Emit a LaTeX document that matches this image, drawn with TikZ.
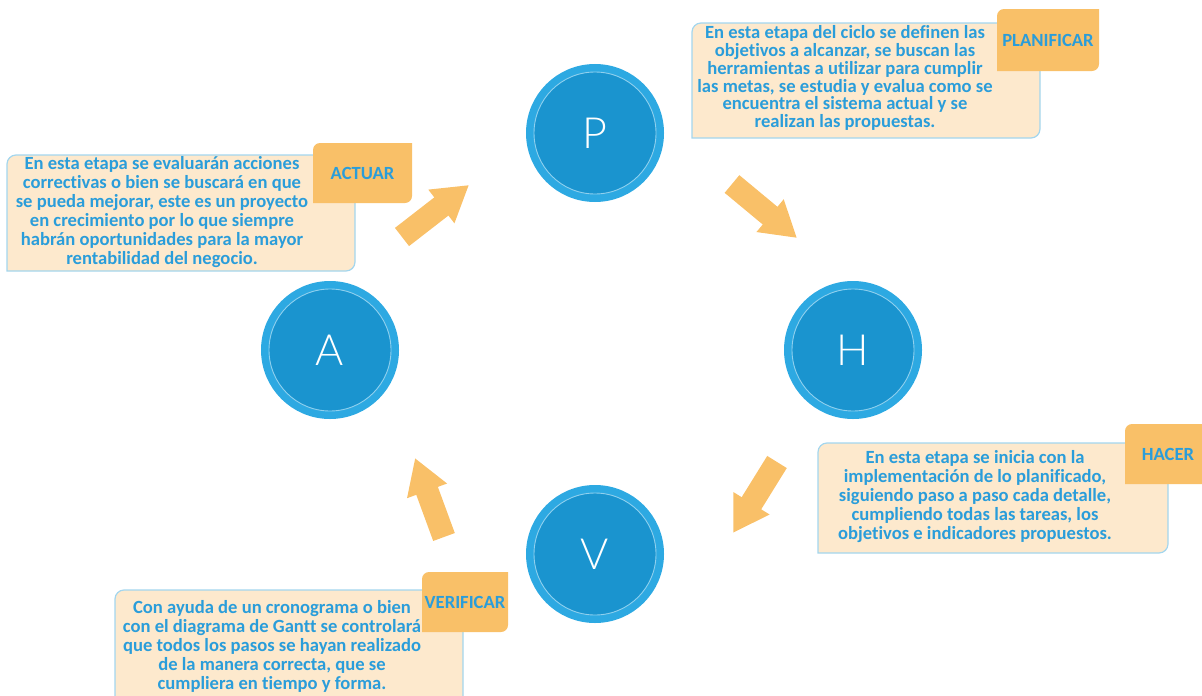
\documentclass[tikz,border=0pt]{standalone}
\usepackage{fontspec}
\setmainfont{Carlito}[Ligatures=NoCommon]
\newfontfamily\letterfont{Lato Light}
\usetikzlibrary{arrows.meta}

\definecolor{ringblue}{HTML}{2DA9E2}
\definecolor{coreblue}{HTML}{1A94CF}
\definecolor{ringline}{HTML}{8FD0EE}
\definecolor{notefill}{HTML}{FDE9CD}
\definecolor{noteedge}{HTML}{A3D6EE}
\definecolor{tagfill}{HTML}{F9C068}
\definecolor{textblue}{HTML}{2A9DDA}

% rectangle with only the top-left and bottom-right corners rounded
\newcommand\diagshape[3]{%
  \path[#3] (#1.south west) -- ([yshift=-#2]#1.north west)
    arc[start angle=180,end angle=90,radius=#2] -- (#1.north east)
    -- ([yshift=#2]#1.south east)
    arc[start angle=0,end angle=-90,radius=#2] -- cycle;}

\tikzset{
  stage/.style={circle, inner sep=0pt, outer sep=0pt, minimum size=122pt,
    fill=coreblue, draw=ringline, line width=0.9pt,
    preaction={draw=ringblue, line width=16pt},
    text=white, font=\letterfont\fontsize{43}{43}\selectfont},
  frame/.style={rectangle, inner sep=0pt, outer sep=0pt},
  note/.style={fill=notefill, draw=noteedge, line width=1.2pt},
  tag/.style={fill=tagfill},
  bodytext/.style={align=center, inner sep=0pt, text=textblue,
    font=\bfseries\fontsize{18.6}{19}\selectfont},
  tighttext/.style={bodytext, font=\bfseries\fontsize{18.6}{17.9}\selectfont},
  tagtext/.style={inner sep=0pt, text=textblue,
    font=\bfseries\fontsize{18.6}{18}\selectfont},
  blockarrow/.style={draw=tagfill, line width=23pt,
    -{Triangle[length=35pt,width=40pt]}},
}

\begin{document}
\begin{tikzpicture}[x=1pt,y=1pt]
\useasboundingbox (0,0) rectangle (1202,-696);
\clip (0,0) rectangle (1202,-696);

% the four stages of the cycle
\node[stage] (P) at (595,-133) {P};
\node[stage] (H) at (853,-350) {H};
\node[stage] (V) at (595,-554) {V};
\node[stage] (A) at (330,-350) {A};

% block arrows between the stages
\coordinate (pa) at (402,-237);  \coordinate (pb) at (469,-185);
\coordinate (ha) at (732,-184);  \coordinate (hb) at (797,-238);
\coordinate (va) at (777,-462);  \coordinate (vb) at (733,-533);
\coordinate (aa) at (444,-537);  \coordinate (ab) at (415,-458);
\draw[blockarrow] (pa) -- (pb);
\draw[blockarrow] (ha) -- (hb);
\draw[blockarrow] (va) -- (vb);
\draw[blockarrow] (aa) -- (ab);

% PLANIFICAR
\node[frame, minimum width=348pt, minimum height=115pt] (planBox) at (866,-80.5) {};
\diagshape{planBox}{9pt}{note}
\node[frame, minimum width=102pt, minimum height=62pt] (planTag) at (1048,-40) {};
\diagshape{planTag}{7pt}{tag}
\node[tagtext] at (planTag) {PLANIFICAR};
\node[tighttext] (planText) at (845,-78) {En esta etapa del ciclo se definen las\\
  objetivos a alcanzar, se buscan las\\
  herramientas a utilizar para cumplir\\
  las metas, se estudia y evalua como se\\
  encuentra el sistema actual y se\\
  realizan las propuestas.};

% ACTUAR
\node[frame, minimum width=348pt, minimum height=116pt] (actBox) at (181,-213) {};
\diagshape{actBox}{9pt}{note}
\node[frame, minimum width=99pt, minimum height=60pt] (actTag) at (362.5,-173) {};
\diagshape{actTag}{7pt}{tag}
\node[tagtext] at (actTag) {ACTUAR};
\node[bodytext] (actText) at (162,-212) {En esta etapa se evaluarán acciones\\
  correctivas o bien se buscará en que\\
  se pueda mejorar, este es un proyecto\\
  en crecimiento por lo que siempre\\
  habrán oportunidades para la mayor\\
  rentabilidad del negocio.};

% HACER
\node[frame, minimum width=350pt, minimum height=110pt] (doBox) at (993,-498) {};
\diagshape{doBox}{9pt}{note}
\node[frame, minimum width=86pt, minimum height=60pt] (doTag) at (1168,-454) {};
\diagshape{doTag}{7pt}{tag}
\node[tagtext] at (doTag) {HACER};
\node[bodytext] (doText) at (975,-497) {En esta etapa se inicia con la\\
  implementación de lo planificado,\\
  siguiendo paso a paso cada detalle,\\
  cumpliendo todas las tareas, los\\
  objetivos e indicadores propuestos.};

% VERIFICAR
\node[frame, minimum width=348pt, minimum height=116pt] (chkBox) at (289,-648) {};
\diagshape{chkBox}{9pt}{note}
\node[frame, minimum width=86pt, minimum height=60pt] (chkTag) at (465,-602) {};
\diagshape{chkTag}{7pt}{tag}
\node[tagtext] at (chkTag) {VERIFICAR};
\node[bodytext] (chkText) at (272,-646) {Con ayuda de un cronograma o bien\\
  con el diagrama de Gantt se controlará\\
  que todos los pasos se hayan realizado\\
  de la manera correcta, que se\\
  cumpliera en tiempo y forma.};
\end{tikzpicture}
\end{document}
